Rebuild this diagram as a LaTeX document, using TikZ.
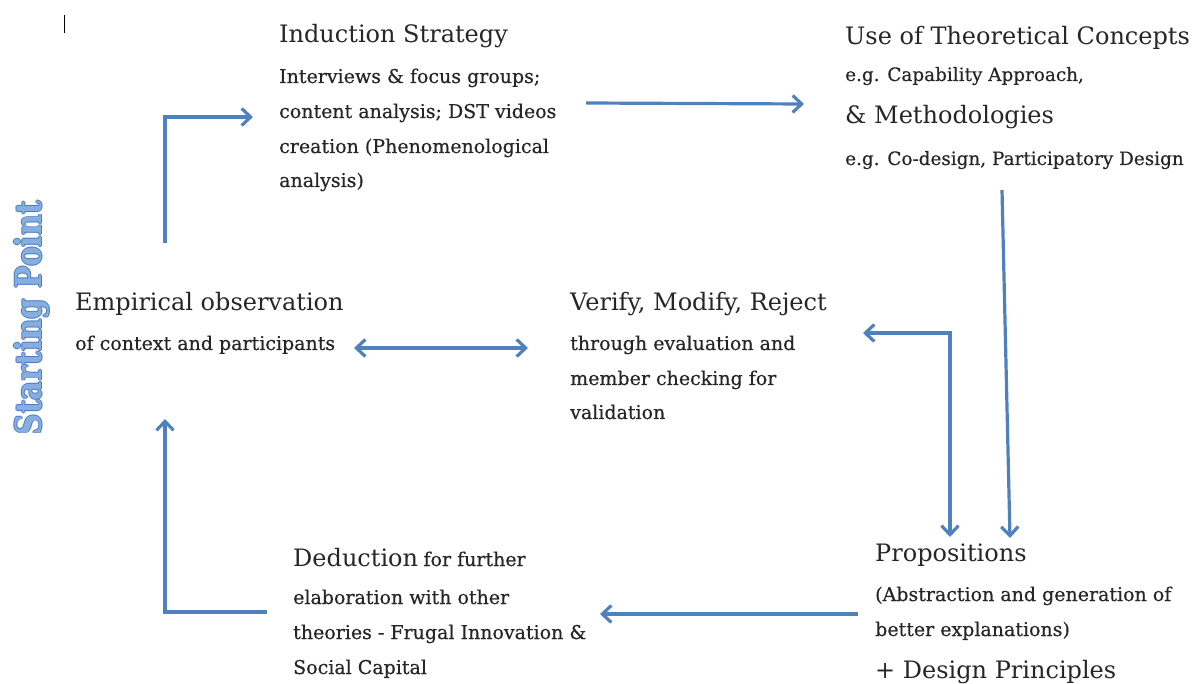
\documentclass[tikz,border=0pt]{standalone}
\usepackage{fontspec}
\setmainfont{DejaVu Serif}
\newfontfamily\subfont{DejaVu Serif}[FakeBold=0.5]
\usetikzlibrary{arrows.meta}
\definecolor{arrowblue}{HTML}{4F81BD}
\definecolor{startlight}{HTML}{86AEE0}
\definecolor{startdark}{HTML}{4A7CC0}
\definecolor{textgray}{HTML}{262626}
\tikzset{
  head/.style={anchor=base west, inner sep=0pt, text=textgray, font=\fontsize{24}{28}\selectfont},
  sub/.style={anchor=base west, inner sep=0pt, text=textgray, font=\subfont\fontsize{19}{22}\selectfont},
  subsmall/.style={anchor=base west, inner sep=0pt, text=textgray, font=\subfont\fontsize{18.4}{22}\selectfont},
  starttxt/.style={rotate=90, inner sep=0pt, font=\bfseries\fontsize{29.5}{34}\selectfont},
  flow/.style={draw=arrowblue, line width=3.2pt, -{Straight Barb[length=9pt,width=17pt,line width=3.2pt]}},
  flowboth/.style={draw=arrowblue, line width=3.2pt, {Straight Barb[length=9pt,width=17pt,line width=3.2pt]}-{Straight Barb[length=9pt,width=17pt,line width=3.2pt]}},
}
\newcommand{\startlabel}{\scalebox{1}[1.22]{Starting Point}}
\begin{document}
\begin{tikzpicture}[x=1pt,y=-1pt]
\useasboundingbox (0,0) rectangle (1197,684);
% cursor mark
\draw[line width=1pt, black] (64,15) coordinate (cur1) -- (64,33) coordinate (cur2);
% Starting point (outlined look)
\node[starttxt, text=startdark] (sp1) at (31.1,318) {\startlabel};
\node[starttxt, text=startdark] (sp2) at (32.9,318) {\startlabel};
\node[starttxt, text=startdark] (sp3) at (32,317.1) {\startlabel};
\node[starttxt, text=startdark] (sp4) at (32,318.9) {\startlabel};
\node[starttxt, text=startlight] (start) at (32,318) {\startlabel};
% Induction
\node[head] (ind0) at (279,43) {Induction Strategy};
\node[sub] (ind1) at (279,83) {Interviews \& focus groups;};
\node[sub] (ind2) at (279,118) {content analysis; DST videos};
\node[sub] (ind3) at (279,153) {creation (Phenomenological};
\node[sub] (ind4) at (279,187) {analysis)};
% Theory
\node[head] (th0) at (845,45) {Use of Theoretical Concepts};
\node[subsmall] (th1) at (845,81) {e.g. Capability Approach,};
\node[head] (th2) at (845,124) {\& Methodologies};
\node[subsmall] (th3) at (845,165) {e.g. Co-design, Participatory Design};
% Empirical
\node[head] (emp0) at (75,311) {Empirical observation};
\node[sub] (emp1) at (75,350) {of context and participants};
% Verify
\node[head] (ver0) at (570,311) {Verify, Modify, Reject};
\node[sub] (ver1) at (570,350) {through evaluation and};
\node[sub] (ver2) at (570,385) {member checking for};
\node[sub] (ver3) at (570,419) {validation};
% Deduction
\node[head] (ded0) at (293,566) {Deduction};
\node[sub, anchor=base west] (ded0b) at ([xshift=5pt]ded0.base east) {for further};
\node[sub] (ded1) at (293,604) {elaboration with other};
\node[sub] (ded2) at (293,639) {theories - Frugal Innovation \&};
\node[sub] (ded3) at (293,674) {Social Capital};
% Propositions
\node[head] (pro0) at (875,561) {Propositions};
\node[sub] (pro1) at (875,601) {(Abstraction and generation of};
\node[sub] (pro2) at (875,636) {better explanations)};
\node[head] (pro3) at (875,678) {+ Design Principles};
% connector coordinates
\coordinate (a1s) at (165,243);
\coordinate (a1c) at (165,117);
\coordinate (a1e) at (253,117);
\coordinate (a2s) at (586,103);
\coordinate (a2e) at (804,104);
\coordinate (a3s) at (1002,190);
\coordinate (a3e) at (1010,538);
\coordinate (a4s) at (863,333);
\coordinate (a4c) at (950,333);
\coordinate (a4e) at (950,537);
\coordinate (a5s) at (354,348);
\coordinate (a5e) at (528,348);
\coordinate (a6s) at (858,614);
\coordinate (a6e) at (600,614);
\coordinate (a7s) at (267,612);
\coordinate (a7c) at (165,612);
\coordinate (a7e) at (165,419);
\draw[flow] (a1s) -- (a1c) -- (a1e);
\draw[flow] (a2s) -- (a2e);
\draw[flow] (a3s) -- (a3e);
\draw[flowboth] (a4s) -- (a4c) -- (a4e);
\draw[flowboth] (a5s) -- (a5e);
\draw[flow] (a6s) -- (a6e);
\draw[flow] (a7s) -- (a7c) -- (a7e);
\end{tikzpicture}
\end{document}
